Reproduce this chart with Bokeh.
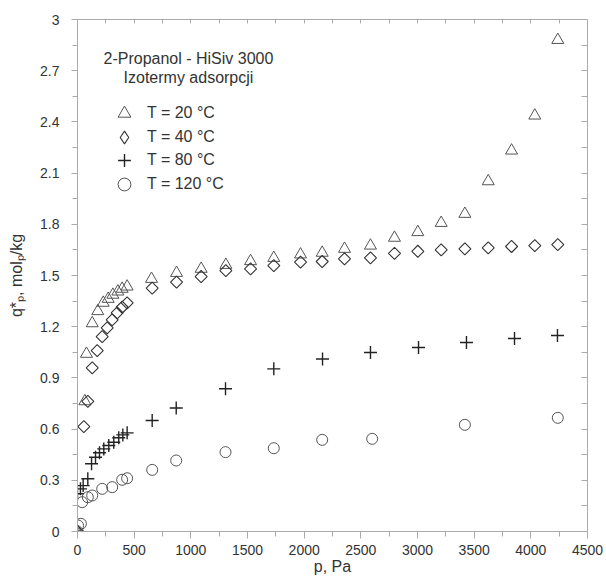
import numpy as np
from bokeh.plotting import figure
from bokeh.models import (Range1d, LinearAxis, FixedTicker, CustomJSTickFormatter,
                          Label, Legend, LegendItem)
from bokeh.embed import file_html
from bokeh.resources import INLINE

# ---------------- data ----------------
p20 = [0, 65, 79, 130, 179, 227, 271, 312, 356, 394, 438, 653, 874, 1091, 1309, 1527,
       1732, 1968, 2159, 2356, 2585, 2797, 3003, 3209, 3418, 3624, 3830, 4035, 4238]
q20 = [0, 0.763, 1.041, 1.220, 1.291, 1.340, 1.363, 1.387, 1.406, 1.422, 1.435, 1.480,
       1.515, 1.539, 1.562, 1.584, 1.603, 1.623, 1.633, 1.656, 1.675, 1.721, 1.754,
       1.808, 1.861, 2.052, 2.232, 2.437, 2.880]

p40 = [0, 56, 91, 130, 174, 218, 262, 306, 350, 394, 438, 659, 874, 1091, 1309, 1527,
       1732, 1968, 2159, 2356, 2585, 2797, 3003, 3209, 3418, 3624, 3830, 4035, 4238]
q40 = [0, 0.615, 0.763, 0.959, 1.060, 1.142, 1.193, 1.240, 1.281, 1.314, 1.340, 1.426,
       1.461, 1.494, 1.529, 1.539, 1.558, 1.578, 1.582, 1.598, 1.603, 1.630, 1.642,
       1.650, 1.656, 1.662, 1.670, 1.675, 1.681]

p80 = [0, 0, 26, 50, 91, 124, 159, 194, 232, 276, 320, 364, 400, 438, 659, 871, 1306,
       1732, 2162, 2585, 3009, 3432, 3856, 4235]
q80 = [0, 0.221, 0.250, 0.269, 0.309, 0.397, 0.435, 0.461, 0.484, 0.504, 0.523, 0.549,
       0.566, 0.578, 0.650, 0.724, 0.836, 0.953, 1.011, 1.049, 1.078, 1.107, 1.131, 1.148]

p120 = [0, 5, 30, 41, 91, 130, 218, 306, 394, 438, 659, 871, 1306, 1732, 2159, 2600,
        3418, 4238]
q120 = [0, 0.035, 0.045, 0.172, 0.201, 0.211, 0.250, 0.260, 0.303, 0.312, 0.361, 0.416,
        0.465, 0.488, 0.537, 0.543, 0.625, 0.666]

series_labels = ["T = 20 °C", "T = 40 °C", "T = 80 °C", "T = 120 °C"]
title_lines = ["2-Propanol - HiSiv 3000", "Izotermy adsorpcji"]

x_major = [0, 500, 1000, 1500, 2000, 2500, 3000, 3500, 4000, 4500]
x_tick_labels = ["0", "500", "1000", "1500", "2000", "2500", "3000", "3500", "4000", "4500"]
x_minor = [250, 750, 1250, 1750, 2250, 2750, 3250, 3750, 4250]
y_major = [0, 0.3, 0.6, 0.9, 1.2, 1.5, 1.8, 2.1, 2.4, 2.7, 3]
y_tick_labels = ["0", "0.3", "0.6", "0.9", "1.2", "1.5", "1.8", "2.1", "2.4", "2.7", "3"]
y_minor = [0.15, 0.45, 0.75, 1.05, 1.35, 1.65, 1.95, 2.25, 2.55, 2.85]

FONT = "Liberation Sans"
TXT = "#333333"
AX = "#aaaaaa"

p = figure(frame_width=510, frame_height=512,
           x_range=Range1d(0, 4500), y_range=Range1d(0, 3),
           output_backend="svg", toolbar_location=None,
           min_border_left=77, min_border_right=18, min_border_top=19, min_border_bottom=50,
           x_axis_label="p, Pa", y_axis_label="q*ₚ, molₚ/kg")
p.xgrid.visible = False
p.ygrid.visible = False
p.outline_line_color = None
p.background_fill_color = "white"
p.border_fill_color = "white"
# range used only by the legend key of the 40 °C series (puts its copy far off-canvas)
p.extra_y_ranges = {"keys": Range1d(100, 101)}

def fmt(tvals, tlabels):
    return CustomJSTickFormatter(args=dict(tv=tvals, tl=tlabels),
                                 code="const i = tv.indexOf(tick); return i >= 0 ? tl[i] : '';")

xa = p.xaxis[0]
xa.ticker = FixedTicker(ticks=x_major, minor_ticks=x_minor)
xa.formatter = fmt(x_major, x_tick_labels)
xa.major_tick_out = 7
xa.major_tick_in = 0
xa.minor_tick_out = 5
xa.minor_tick_in = 0
xa.major_label_standoff = 6
xa.axis_label_standoff = 0

ya = p.yaxis[0]
ya.ticker = FixedTicker(ticks=y_major, minor_ticks=y_minor)
ya.formatter = fmt(y_major, y_tick_labels)
ya.major_tick_out = 6
ya.major_tick_in = 0
ya.minor_tick_out = 5
ya.minor_tick_in = 0
ya.major_label_standoff = 12
ya.axis_label_standoff = 12

for ax in (xa, ya):
    ax.axis_line_color = AX
    ax.major_tick_line_color = AX
    ax.minor_tick_line_color = AX
    ax.major_label_text_font = FONT
    ax.major_label_text_font_size = "14px"
    ax.major_label_text_color = TXT
    ax.axis_label_text_font = FONT
    ax.axis_label_text_font_size = "16px"
    ax.axis_label_text_font_style = "normal"
    ax.axis_label_text_color = TXT

top = LinearAxis(ticker=FixedTicker(ticks=[], minor_ticks=sorted(x_major[1:-1] + x_minor)),
                 major_tick_out=0, major_tick_in=0, minor_tick_out=0, minor_tick_in=4,
                 major_label_standoff=0, axis_line_color=AX, minor_tick_line_color=AX,
                 major_tick_line_color=None)
right = LinearAxis(ticker=FixedTicker(ticks=[], minor_ticks=sorted(y_major[1:-1] + y_minor)),
                   major_tick_out=0, major_tick_in=0, minor_tick_out=0, minor_tick_in=6,
                   major_label_standoff=0, axis_line_color=AX, minor_tick_line_color=AX,
                   major_tick_line_color=None)
p.add_layout(top, "above")
p.add_layout(right, "right")

r20 = p.scatter(p20, q20, marker="triangle", size=12, fill_color=None,
                line_color="#555555", line_width=1)
r40 = p.scatter(p40, q40, marker="square", angle=np.pi / 4, size=8.5, fill_color=None,
                line_color="#333333", line_width=1.1)
r80 = p.scatter(p80, q80, marker="cross", size=13, line_color="#222222", line_width=1.4)
r120 = p.scatter(p120, q120, marker="circle", size=11, fill_color=None,
                 line_color="#555555", line_width=1)

# legend-only key for the 40 °C series (legend keys ignore marker angle)
r40_key = p.scatter(p40, q40, marker="diamond", fill_color=None,
                    line_color="#333333", line_width=1.1, y_range_name="keys")

row_renderers = [r20, r40_key, r80, r120]
row_offsets = [402, 378, 355, 331]
for lab, rr, yoff in zip(series_labels, row_renderers, row_offsets):
    lg = Legend(items=[LegendItem(label=lab, renderers=[rr])],
                location=(31, yoff), glyph_width=32, glyph_height=32,
                label_standoff=7, padding=0, margin=0, spacing=0,
                border_line_color=None, background_fill_alpha=0,
                label_text_font=FONT, label_text_font_size="16px", label_text_color=TXT)
    p.add_layout(lg, "center")

for txt, yy in zip(title_lines, [2.771, 2.662]):
    p.add_layout(Label(x=979, y=yy, text=txt, text_align="center", text_baseline="middle",
                       text_font=FONT, text_font_size="16px", text_color=TXT))

open("out.html", "w").write(file_html(p, INLINE))
